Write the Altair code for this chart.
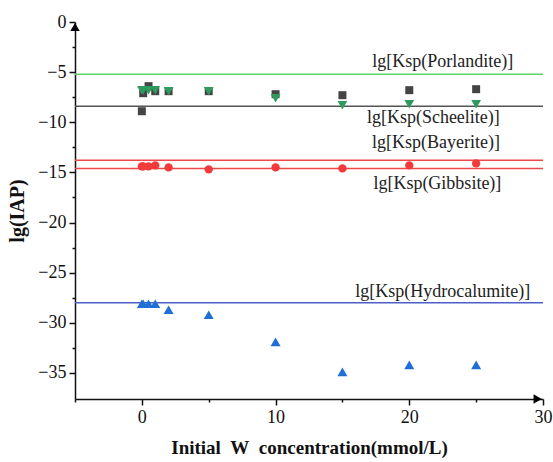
import altair as alt
import pandas as pd

# ---- data ----
w_conc = [0, 0.1, 0.5, 1, 2, 5, 10, 15, 20, 25]
scheelite_iap = [-8.9, -7.1, -6.4, -6.9, -6.9, -6.9, -7.2, -7.3, -6.8, -6.7]
porlandite_iap = [-6.8, -6.8, -6.8, -6.8, -6.9, -6.9, -7.6, -8.3, -8.2, -8.2]
gibbsite_iap = [-14.4, -14.4, -14.4, -14.3, -14.5, -14.7, -14.5, -14.6, -14.3, -14.1]
hydro_iap = [-28.1, -28.1, -28.1, -28.1, -28.7, -29.2, -31.9, -34.9, -34.2, -34.2]

ksp_names = ["lg[Ksp(Porlandite)]", "lg[Ksp(Scheelite)]", "lg[Ksp(Bayerite)]",
             "lg[Ksp(Gibbsite)]", "lg[Ksp(Hydrocalumite)]"]
ksp_values = [-5.2, -8.4, -13.8, -14.6, -28.0]
ksp_colors = ["#5fd35f", "#555555", "#f04848", "#f04848", "#4d5fc6"]
label_x = [22.5, 21.8, 22.0, 22.1, 22.5]
label_y = [-4.0, -9.6, -12.1, -16.2, -26.9]

series_names = ["scheelite", "porlandite", "gibbsite", "hydro"]
series_shapes = ["square", "triangle-down", "circle", "triangle-up"]
series_colors = ["#444444", "#2e9b5e", "#f23a3a", "#1f6fd6"]
series_sizes = [64, 95, 70, 100]
series_values = [scheelite_iap, porlandite_iap, gibbsite_iap, hydro_iap]

x_domain = [-5, 30]
y_domain = [-37.6, 0]
y_ticks = [-35, -32.5, -30, -27.5, -25, -22.5, -20, -17.5, -15, -12.5, -10, -7.5, -5, -2.5, 0]
x_ticks = [-5, 0, 5, 10, 15, 20, 25, 30]

FONT = "Liberation Serif"

xscale = alt.Scale(domain=x_domain, nice=False, zero=False)
yscale = alt.Scale(domain=y_domain, nice=False, zero=False)

tick_cond = {"condition": {"test": "abs(datum.value % 5) < 0.001", "value": 6}, "value": 3}
xtick_cond = {"condition": {"test": "abs(datum.value % 10) < 0.001", "value": 6}, "value": 3}

x_axis = alt.Axis(
    values=x_ticks,
    labelExpr="(abs(datum.value % 10) < 0.001 && datum.value >= 0) ? datum.label : ''",
    title="Initial\u00a0\u00a0W\u00a0\u00a0concentration(mmol/L)",
    titleFont=FONT, titleFontSize=19, titleFontWeight="bold", titleColor="#111",
    labelFont=FONT, labelFontSize=18, labelColor="#111",
    domainColor="#111", domainWidth=1.5, tickColor="#111", tickWidth=1.5,
    tickSize=xtick_cond, grid=False, labelPadding=3, titlePadding=12,
    labelFlush=False, labelOverlap=False,
)
y_axis = alt.Axis(
    values=y_ticks,
    labelExpr="(abs(datum.value % 5) < 0.001) ? format(datum.value, 'd') : ''",
    title="lg(IAP)",
    titleFont=FONT, titleFontSize=20, titleFontWeight="bold", titleColor="#111",
    labelFont=FONT, labelFontSize=18, labelColor="#111",
    domainColor="#111", domainWidth=1.5, tickColor="#111", tickWidth=1.5,
    tickSize=tick_cond, grid=False, labelPadding=3, titlePadding=10,
    labelFlush=False, labelOverlap=False,
)

rows = []
for name, vals in zip(series_names, series_values):
    for xv, yv in zip(w_conc, vals):
        rows.append({"series": name, "x": xv, "y": yv})
pts = pd.DataFrame(rows)

ksp = pd.DataFrame({"name": ksp_names, "value": ksp_values, "color": ksp_colors,
                    "lx": label_x, "ly": label_y})

rules = alt.Chart(ksp).mark_rule(strokeWidth=1.5).encode(
    y=alt.Y("value:Q", scale=yscale, axis=y_axis),
    color=alt.Color("color:N", scale=None),
)

labels = alt.Chart(ksp).mark_text(font=FONT, fontSize=18, color="#222").encode(
    x=alt.X("lx:Q", scale=xscale, axis=x_axis),
    y=alt.Y("ly:Q", scale=yscale, axis=y_axis),
    text="name:N",
)

layers = [rules]
for name, shape, color, size in zip(series_names, series_shapes, series_colors, series_sizes):
    layers.append(
        alt.Chart(pts[pts.series == name]).mark_point(
            shape=shape, filled=True, color=color, size=size, opacity=1
        ).encode(
            x=alt.X("x:Q", scale=xscale, axis=x_axis),
            y=alt.Y("y:Q", scale=yscale, axis=y_axis),
        )
    )
layers.append(labels)

# axis arrow heads
arrow_x = [-5, 29.6]
arrow_y = [-0.5, -37.6]
arrow_shape = ["triangle-up", "triangle-right"]
arrows = pd.DataFrame({"x": arrow_x, "y": arrow_y, "shape": arrow_shape})
layers.append(
    alt.Chart(arrows).mark_point(filled=True, color="#000", size=90, opacity=1).encode(
        x=alt.X("x:Q", scale=xscale, axis=x_axis),
        y=alt.Y("y:Q", scale=yscale, axis=y_axis),
        shape=alt.Shape("shape:N", scale=None),
    )
)

chart = alt.layer(*layers).properties(
    width=468, height=377,
    autosize=alt.AutoSizeParams(type="none"),
    padding={"left": 75, "top": 22, "right": 10, "bottom": 63},
    background="white",
).configure_view(stroke=None)

chart.save("out.html", embed_options={"renderer": "svg", "actions": False})
